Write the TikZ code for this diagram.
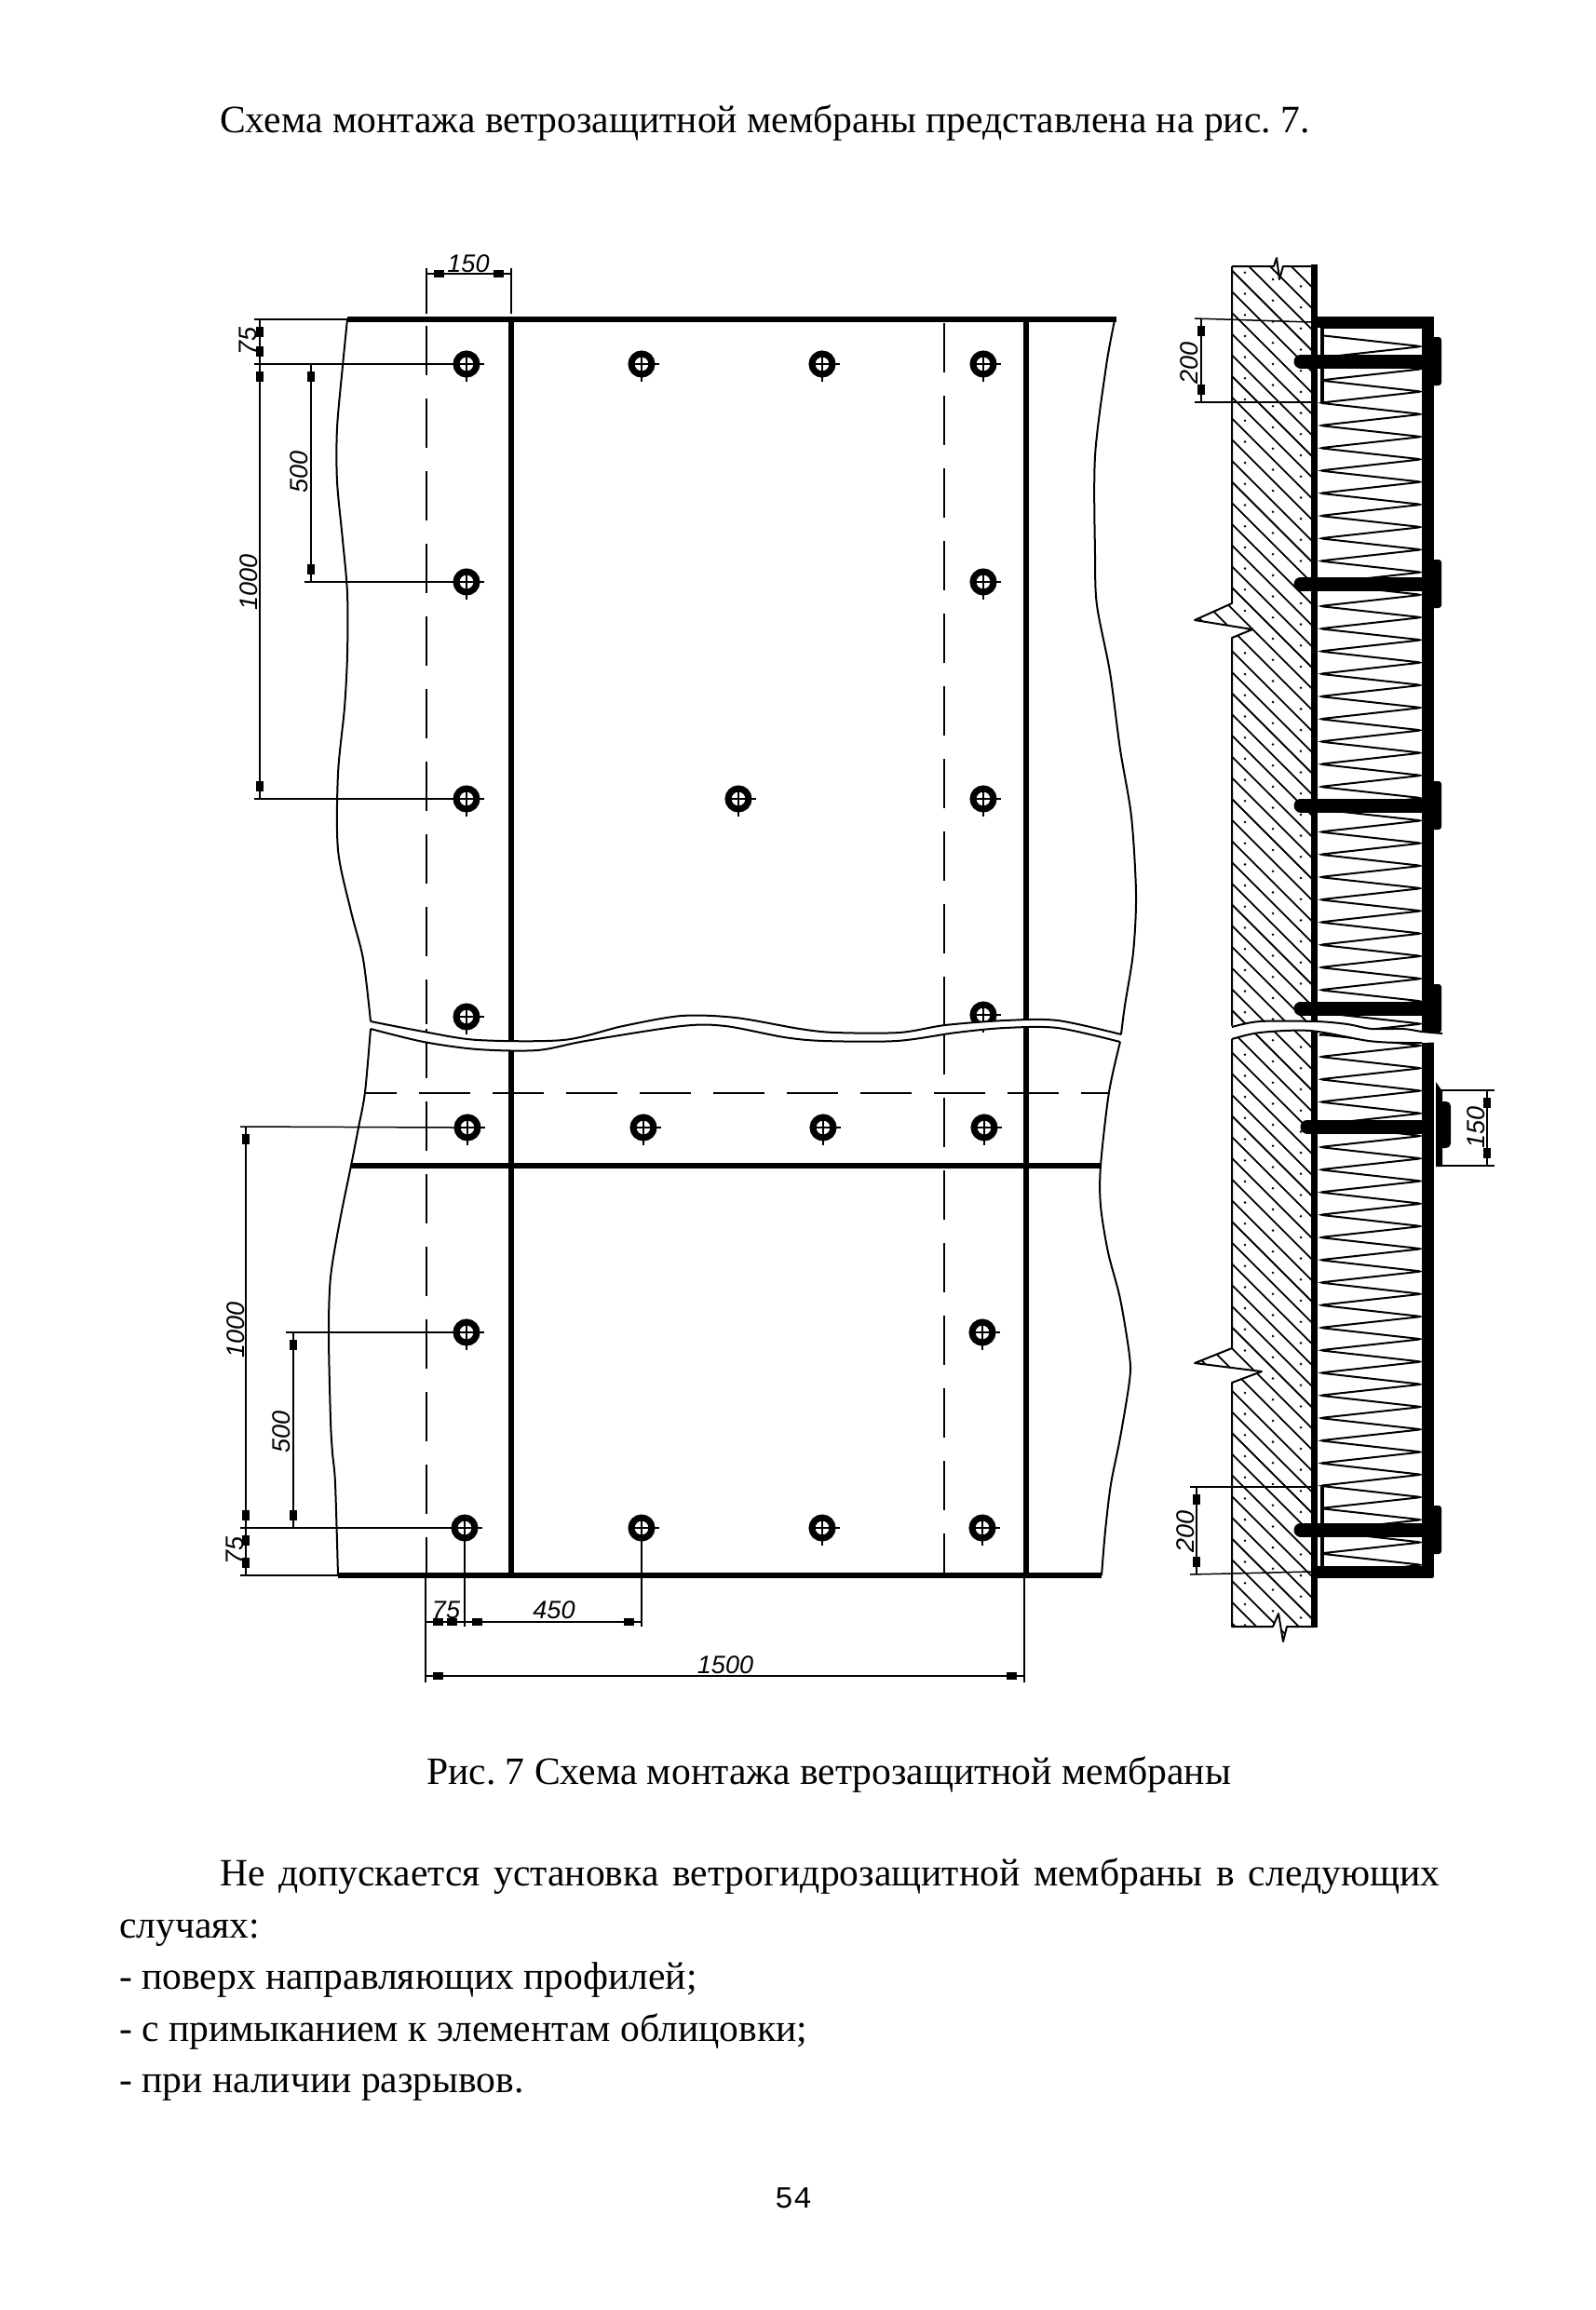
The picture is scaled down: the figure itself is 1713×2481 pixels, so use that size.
\documentclass[tikz,border=0pt]{standalone}
\usepackage{fontspec}
\setmainfont{Liberation Serif}
\newfontfamily\dimfont{Liberation Sans}
\newfontfamily\pagefont{Liberation Mono}
\usetikzlibrary{arrows.meta, calc}

\tikzset{
    heavyline/.style={line width=6pt},
    edgeline/.style={line width=2pt, line join=round},
    thinline/.style={line width=1.5pt},
    axisline/.style={line width=2.5pt, dash pattern=on 53pt off 25pt},
    dimline/.style={line width=2pt,
        arrows={{Bar[width=0pt,line width=0pt,sep=8pt]Rectangle[length=11pt,width=8pt]}-{Rectangle[length=11pt,width=8pt]Bar[width=0pt,line width=0pt,sep=8pt]}},
        postaction={draw, arrows=-}},
    dimlabel/.style={font=\dimfont\itshape\fontsize{27}{27}\selectfont, inner sep=0pt},
    hole/.style={circle, draw, line width=7pt, minimum size=22pt, inner sep=0pt, fill=white},
    bodytext/.style={anchor=base west, inner sep=0pt, font=\fontsize{41.6}{48}\selectfont},
    bolt/.style={line width=15pt, line cap=round},
    zigzag/.style={line width=2pt, rounded corners=4pt},
}
\newcommand{\wallpath}{(1323,286) -- (1368,286) -- (1371,277) -- (1374,300) -- (1378,286) -- (1411,286)
    -- (1411,1747) -- (1382,1747) -- (1378,1763) -- (1373,1733) -- (1367,1747) -- (1323,1747)
    -- (1323,1485) -- (1355,1473) -- (1283,1464) -- (1323,1448)
    -- (1323,685) -- (1345,676) -- (1283,666) -- (1323,648)}
\frenchspacing

\begin{document}
\begin{tikzpicture}[x=1pt, y=-1pt]
    \useasboundingbox (0,0) rectangle (1713,2481);

    % text
    \node[bodytext] (title) at (236,142) {Схема монтажа ветрозащитной мембраны представлена на рис. 7.};
    \node[bodytext] (caption) at (458,1916) {Рис. 7 Схема монтажа ветрозащитной мембраны};
    \node[bodytext] (line1) at (236,2025) {\hbox to 1310pt{Не допускается установка ветрогидрозащитной мембраны в следующих}};
    \node[bodytext] (line2) at (128,2081) {случаях:};
    \node[bodytext] (line3) at (128,2136) {- поверх направляющих профилей;};
    \node[bodytext] (line4) at (128,2192) {- с примыканием к элементам облицовки;};
    \node[bodytext] (line5) at (128,2247) {- при наличии разрывов.};
    \node[anchor=base, inner sep=0pt, font=\pagefont\fontsize{33}{33}\selectfont] (pagenum) at (852,2371) {54};

    % plan: axis lines
    \coordinate (axLa) at (458,350); \coordinate (axLb) at (458,1100);
    \coordinate (axLc) at (458,1105); \coordinate (axLd) at (458,1692);
    \coordinate (axRa) at (1014,347); \coordinate (axRb) at (1014,1100);
    \coordinate (axRc) at (1014,1101); \coordinate (axRd) at (1014,1692);
    \coordinate (axMa) at (392,1174); \coordinate (axMb) at (1191,1174);
    \draw[axisline] (axLa) -- (axLb);
    \draw[axisline] (axLc) -- (axLd);
    \draw[axisline] (axRa) -- (axRb);
    \draw[axisline] (axRc) -- (axRd);
    \draw[axisline, dash pattern=on 55pt off 24pt, dash phase=21pt] (axMa) -- (axMb);

    % plan: holes
    \foreach \name/\xx/\yy in {h11/501/391, h12/689/391, h13/883/391, h14/1056/391,
        h21/501/625, h24/1056/625, h31/501/858, h32/793/858, h34/1056/858,
        h41/501/1092, h44/1056/1090, h51/502/1211, h52/691/1211, h53/884/1211, h54/1057/1211,
        h61/501/1431, h64/1055/1431, h71/499/1641, h72/689/1641, h73/883/1641, h74/1055/1641}{
        \node[hole] (\name) at (\xx,\yy) {};
        \draw[thinline] (\name.center) +(-8,0) -- +(19,0) +(0,-8) -- +(0,19);
    }

    % plan: sheets
    \coordinate (tL) at (373,343); \coordinate (tR) at (1199,343);
    \coordinate (mL) at (377,1252); \coordinate (mR) at (1182,1252);
    \coordinate (bL) at (363,1692); \coordinate (bR) at (1183,1692);
    \coordinate (vLa) at (549,343); \coordinate (vLb) at (549,1692);
    \coordinate (vRa) at (1102,343); \coordinate (vRb) at (1102,1692);
    \draw[heavyline] (vLa) -- (vLb);
    \draw[heavyline] (vRa) -- (vRb);
    \draw[heavyline] (tL) -- (tR);
    \draw[heavyline] (mL) -- (mR);
    \draw[heavyline] (bL) -- (bR);
    \draw[edgeline] plot[smooth, tension=.5] coordinates {(373,343) (368,393) (362,460) (362,517) (368,580) (373,637) (373,703) (370,760) (363,831) (363,913) (377,979) (390,1030) (398,1097)};
    \draw[edgeline] plot[smooth, tension=.5] coordinates {(398,1105) (392,1173) (385,1211) (377,1252) (365,1311) (355,1372) (353,1433) (355,1525) (357,1560) (360,1593) (363,1692)};
    \draw[edgeline] plot[smooth, tension=.5] coordinates {(1197,344) (1188,393) (1176,490) (1176,596) (1178,650) (1192,722) (1203,805) (1215,877) (1220,960) (1217,1023) (1208,1080) (1204,1111)};
    \draw[edgeline] plot[smooth, tension=.5] coordinates {(1203,1119) (1191,1173) (1182,1252) (1182,1295) (1190,1345) (1203,1395) (1213,1456) (1213,1483) (1203,1544) (1193,1594) (1187,1644) (1183,1692)};
    \fill[white] plot[smooth, tension=.5] coordinates {(398,1097) (455,1108) (513,1117) (605,1117) (669,1102) (732,1091) (790,1093) (859,1105) (897,1109) (966,1109) (1015,1101) (1079,1096) (1136,1096) (1204,1111)}
        -- plot[smooth, tension=.5] coordinates {(1203,1119) (1136,1104) (1079,1104) (1027,1109) (963,1118) (885,1118) (842,1114) (779,1102) (732,1102) (629,1118) (577,1128) (513,1127) (455,1119) (398,1105)} -- cycle;
    \draw[edgeline] plot[smooth, tension=.5] coordinates {(398,1097) (455,1108) (513,1117) (605,1117) (669,1102) (732,1091) (790,1093) (859,1105) (897,1109) (966,1109) (1015,1101) (1079,1096) (1136,1096) (1204,1111)};
    \draw[edgeline] plot[smooth, tension=.5] coordinates {(398,1105) (455,1119) (513,1127) (577,1128) (629,1118) (732,1102) (779,1102) (842,1114) (885,1118) (963,1118) (1027,1109) (1079,1104) (1136,1104) (1203,1119)};

    % plan: dimensions
    \coordinate (e1) at (273,343); \coordinate (e2) at (273,391); \coordinate (e3) at (327,625); \coordinate (e4) at (273,858);
    \coordinate (e5) at (258,1210); \coordinate (e6) at (307,1431); \coordinate (e7) at (258,1641); \coordinate (e8) at (258,1692);
    \draw[thinline] (e1) -- (tL);
    \draw[thinline] (e2) -- (h11.west);
    \draw[thinline] (e3) -- (h21.west);
    \draw[thinline] (e4) -- (h31.west);
    \draw[thinline] (e5) -- (h51.west);
    \draw[thinline] (e6) -- (h61.west);
    \draw[thinline] (e7) -- (h71.west);
    \draw[thinline] (e8) -- (bL);
    \draw[dimline] ($(e1)+(6,0)$) -- ($(e2)+(6,0)$);
    \draw[dimline] ($(e2)+(6,0)$) -- ($(e4)+(6,0)$);
    \draw[dimline] ($(e2)+(61,0)$) -- ($(e3)+(7,0)$);
    \draw[dimline] ($(e5)+(6,0)$) -- ($(e7)+(6,0)$);
    \draw[dimline] ($(e6)+(8,0)$) -- ($(e7)+(57,0)$);
    \draw[dimline] ($(e7)+(6,0)$) -- ($(e8)+(6,0)$);
    \node[dimlabel, rotate=90] (l75a) at (266,366) {75};
    \node[dimlabel, rotate=90] (l1000a) at (267,625) {1000};
    \node[dimlabel, rotate=90] (l500a) at (321,507) {500};
    \node[dimlabel, rotate=90] (l1000b) at (253,1428) {1000};
    \node[dimlabel, rotate=90] (l500b) at (302,1538) {500};
    \node[dimlabel, rotate=90] (l75b) at (252,1665) {75};

    \coordinate (u1) at (458,288); \coordinate (u2) at (458,337); \coordinate (u3) at (549,288); \coordinate (u4) at (549,337);
    \coordinate (u5) at (458,294); \coordinate (u6) at (549,294);
    \draw[thinline] (u1) -- (u2);
    \draw[thinline] (u3) -- (u4);
    \draw[dimline] (u5) -- (u6);
    \node[dimlabel] (l150a) at (503,283) {150};

    \coordinate (w1) at (457,1692); \coordinate (w2) at (457,1807); \coordinate (w3) at (499,1747);
    \coordinate (w4) at (689,1747); \coordinate (w5) at (1100,1692); \coordinate (w6) at (1100,1807);
    \coordinate (w7) at (457,1742); \coordinate (w8) at (499,1742); \coordinate (w9) at (689,1742);
    \coordinate (w10) at (457,1800); \coordinate (w11) at (1100,1800);
    \draw[thinline] (w1) -- (w2);
    \draw[thinline] (h71.south) -- (w3);
    \draw[thinline] (h72.south) -- (w4);
    \draw[thinline] (w5) -- (w6);
    \draw[dimline] (w7) -- (w8);
    \draw[dimline] (w8) -- (w9);
    \draw[dimline] (w10) -- (w11);
    \node[dimlabel] (l75c) at (479,1729) {75};
    \node[dimlabel] (l450) at (595,1729) {450};
    \node[dimlabel] (l1500) at (779,1788) {1500};

    % section: wall
    \begin{scope}
        \clip \wallpath -- cycle;
        \foreach \y in {177,199.7,...,1760}{
            \draw[line width=1.8pt] (1283,\y-40) -- (1411,\y+88);
            \foreach \d in {14,44,74}
                \fill (1323+\d,\y+\d+11) circle (1.4pt);
        }
    \end{scope}
    \draw[edgeline] \wallpath -- (1323,286);

    % section: insulation
    \draw[zigzag] (1417,360) \foreach \k in {0,...,30}{ -- (1527,{372.1+24.25*\k}) -- (1417,{384.25+24.25*\k}) };
    \draw[zigzag] (1417,1111) \foreach \k in {0,...,23}{ -- (1527,{1123+24.25*\k}) -- (1417,{1135+24.25*\k}) };

    % section: brackets and bolts
    \coordinate (mbT) at (1411,284); \coordinate (mbB) at (1411,1748);
    \coordinate (skT) at (1533,340); \coordinate (skB) at (1533,1694);
    \draw[line width=7pt] (mbT) -- (mbB);
    \draw[line width=13pt] (skT) -- (skB);
    \coordinate (brA) at (1408,346); \coordinate (brB) at (1539,346);
    \coordinate (brC) at (1408,1688); \coordinate (brD) at (1539,1688);
    \draw[line width=13pt] (brA) -- (brB);
    \draw[line width=13pt] (brC) -- (brD);
    \fill[white] (1415,352) rectangle (1418,431);
    \fill[white] (1415,1598) rectangle (1418,1682);
    \fill (1418,352) rectangle (1422,432);
    \fill (1418,1597) rectangle (1422,1682);
    \foreach \yy in {388,627,865,1083,1643}{
        \draw[bolt] (1397,\yy) -- (1535,\yy);
        \fill[rounded corners=3pt] (1535,\yy-26) rectangle (1548,\yy+26);
    }
    \draw[bolt] (1404,1210) -- (1535,1210);
    \fill[white] (1540,1160) rectangle (1542,1250);
    \fill (1542,1162) -- (1549,1172) -- (1549,1253) -- (1542,1253) -- cycle;
    \fill[rounded corners=5pt] (1545,1183) rectangle (1558,1233);

    % section: break
    \fill[white] plot[smooth, tension=.5] coordinates {(1318,1103) (1353,1097) (1413,1097) (1447,1100) (1473,1105) (1507,1105) (1527,1108) (1552,1110)}
        -- (1552,1119) -- plot[smooth, tension=.5] coordinates {(1527,1120) (1507,1120) (1470,1118) (1407,1107) (1353,1109) (1318,1117)} -- cycle;
    \draw[edgeline] plot[smooth, tension=.5] coordinates {(1323,1103) (1353,1097) (1413,1097) (1447,1100) (1473,1105) (1507,1105) (1527,1108) (1549,1110)};
    \draw[edgeline] plot[smooth, tension=.5] coordinates {(1323,1116) (1353,1109) (1407,1107) (1470,1118) (1507,1120) (1527,1120)};

    % section: dimensions
    \coordinate (s1) at (1283,342); \coordinate (s2) at (1283,432); \coordinate (s3) at (1278,1597); \coordinate (s4) at (1278,1691);
    \coordinate (s5) at (1545,1171); \coordinate (s6) at (1605,1171); \coordinate (s7) at (1545,1252); \coordinate (s8) at (1605,1252);
    \coordinate (s9) at (1411,432); \coordinate (s10) at (1411,1597);
    \draw[thinline] (s1) -- (brA);
    \draw[thinline] (s2) -- (s9);
    \draw[thinline] (s3) -- (s10);
    \draw[thinline] (s4) -- (brC);
    \draw[thinline] (s5) -- (s6);
    \draw[thinline] (s7) -- (s8);
    \draw[dimline] ($(s1)+(7,0)$) -- ($(s2)+(7,0)$);
    \draw[dimline] ($(s3)+(7,0)$) -- ($(s4)+(7,0)$);
    \draw[dimline] ($(s6)+(-8,0)$) -- ($(s8)+(-8,0)$);
    \node[dimlabel, rotate=90] (l200a) at (1277,390) {200};
    \node[dimlabel, rotate=90] (l200b) at (1273,1645) {200};
    \node[dimlabel, rotate=90] (l150b) at (1585,1211) {150};
\end{tikzpicture}
\end{document}
